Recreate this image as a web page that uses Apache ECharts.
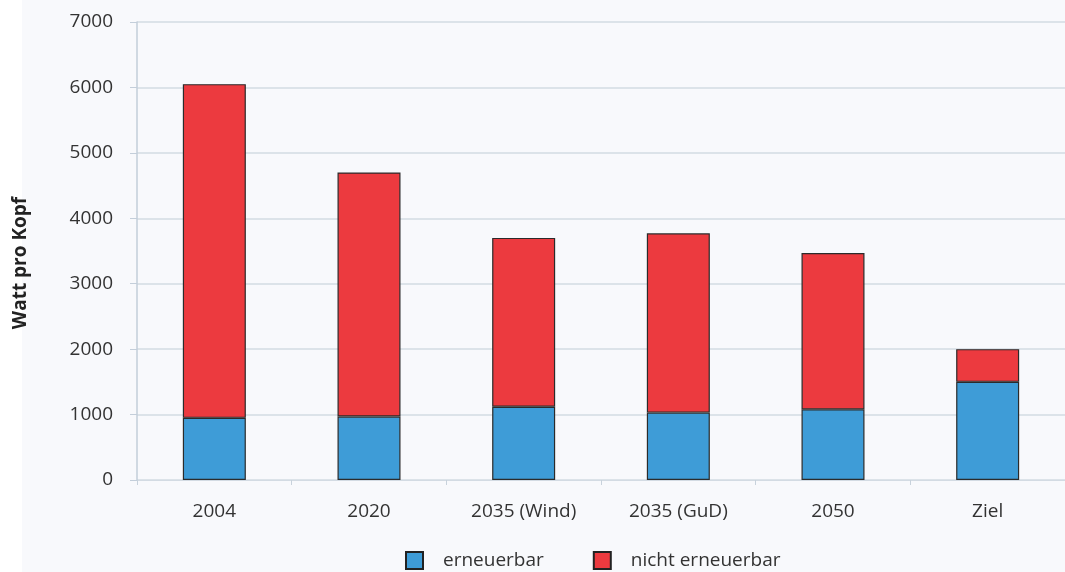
<!DOCTYPE html>
<html>
<head>
<meta charset="utf-8">
<script src="https://cdn.jsdelivr.net/npm/echarts@6/dist/echarts.min.js"></script>
<style>
  html, body { margin: 0; padding: 0; background: #ffffff; }
  #chart { width: 1065px; height: 572px; }
</style>
</head>
<body>
<div id="chart"></div>
<script>
// categories and values
const categories = ['2004', '2020', '2035 (Wind)', '2035 (GuD)', '2050', 'Ziel']
const erneuerbar = [950, 970, 1120, 1030, 1080, 1500]
const nichtErneuerbar = [5100, 3730, 2580, 2740, 2390, 500]
const yTicks = [0, 1000, 2000, 3000, 4000, 5000, 6000, 7000]

const chart = echarts.init(document.getElementById('chart'))

const textFont = "'Open Sans', 'Noto Sans', sans-serif"
const barBorder = { borderColor: '#2b2b2b', borderWidth: 1.2 }

chart.setOption({
  backgroundColor: '#ffffff',
  animation: false,
  graphic: [{
    type: 'rect',
    left: 22, top: 0,
    shape: { width: 1043, height: 572 },
    style: { fill: '#f8f9fc' },
    z: -10
  }],
  grid: { left: 137, top: 22, width: 936, height: 458 },
  legend: {
    left: 405,
    top: 551,
    padding: 0,
    icon: 'rect',
    itemWidth: 17,
    itemHeight: 17,
    itemGap: 49,
    textStyle: { fontFamily: textFont, fontSize: 19, color: '#333', padding: [0, 0, 0, 15] },
    data: [
      { name: 'erneuerbar', itemStyle: { borderColor: '#222', borderWidth: 2 } },
      { name: 'nicht erneuerbar', itemStyle: { borderColor: '#222', borderWidth: 2 } }
    ]
  },
  xAxis: {
    type: 'category',
    data: categories,
    axisLine: { lineStyle: { color: '#d3dbe3' } },
    axisTick: { show: true, length: 5, lineStyle: { color: '#c8d2dc' } },
    axisLabel: { fontFamily: textFont, fontSize: 19, color: '#333', margin: 22 }
  },
  yAxis: {
    type: 'value',
    min: yTicks[0],
    max: yTicks[yTicks.length - 1],
    interval: 1000,
    name: 'Watt pro Kopf',
    nameLocation: 'middle',
    nameGap: 107,
    nameTextStyle: {
      fontFamily: textFont, fontSize: 19, fontWeight: 'bold', color: '#222',
      padding: [0, 24, 0, 0]
    },
    axisLine: { show: true, lineStyle: { color: '#c3ceda', width: 1.5 } },
    axisTick: { show: true, length: 7, lineStyle: { color: '#c3ceda' } },
    axisLabel: {
      fontFamily: textFont, fontSize: 19, color: '#333', margin: 24,
      formatter: v => String(v)
    },
    splitLine: { lineStyle: { color: '#d3dbe3', width: 1.5 } }
  },
  series: [
    {
      name: 'erneuerbar',
      type: 'bar',
      stack: 'total',
      barWidth: 63,
      data: erneuerbar,
      itemStyle: Object.assign({ color: '#3e9cd7' }, barBorder)
    },
    {
      name: 'nicht erneuerbar',
      type: 'bar',
      stack: 'total',
      barWidth: 63,
      data: nichtErneuerbar,
      itemStyle: Object.assign({ color: '#ec3a3f' }, barBorder)
    }
  ]
})
</script>
</body>
</html>
